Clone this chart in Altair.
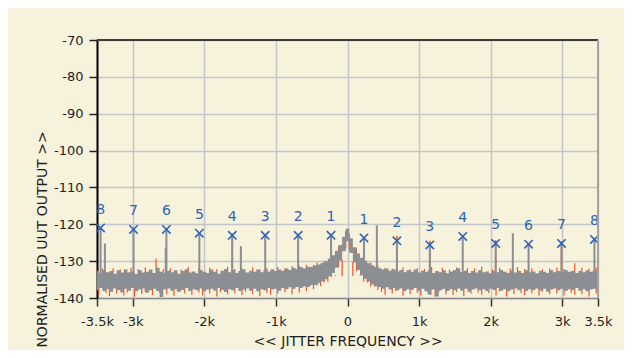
import altair as alt
import pandas as pd

FONT = "DejaVu Sans"
BG = "#f7f2dc"
GRID = "#c3c6c9"
GRAY = "#8b8f94"
RED = "#ee5327"
BLUE = "#2f64b6"

# ---- data -----------------------------------------------------------------
FREQ0, STEP = -3500, 50  # noise floor sampled every 50 Hz from -3.5 kHz

gray_hi = [
    -132.6, -133.2, -132.4, -133.0, -132.7, -133.4, -132.5, -133.1, -132.2, -133.0,
    -132.8, -133.5, -132.4, -133.1, -132.9, -132.3, -133.2, -131.8, -132.9, -133.3,
    -132.6, -133.0, -132.5, -133.4, -132.7, -132.2, -133.1, -132.8, -133.3, -132.4,
    -132.9, -133.2, -132.3, -132.9, -133.4, -132.6, -132.1, -133.0, -132.5, -133.2,
    -132.7, -132.2, -133.1, -132.6, -132.9, -132.3, -133.0, -132.5, -132.8, -132.2,
    -132.7, -132.3, -132.6, -132.0, -132.4, -131.8, -132.2, -131.6, -132.0, -131.5,
    -131.6, -131.2, -130.9, -130.5, -130.0, -129.3, -128.4, -127.2, -125.6, -123.4,
    -121.2, -123.8, -126.2, -127.9, -129.1, -129.9, -130.6, -131.1, -131.6, -131.9,
    -132.3, -132.0, -132.6, -132.2, -132.8, -132.4, -133.0, -132.5, -132.9, -132.3,
    -133.1, -132.6, -132.9, -132.4, -133.2, -132.7, -133.0, -132.5, -133.3, -132.8,
    -132.4, -131.9, -133.0, -132.6, -133.2, -132.7, -133.1, -132.5, -133.0, -132.8,
    -133.3, -132.6, -133.0, -132.4, -132.9, -133.2, -132.6, -133.1, -132.7, -133.2,
    -132.5, -133.0, -132.8, -133.3, -132.6, -132.9, -133.2, -132.5, -133.0, -132.7,
    -133.1, -132.4, -132.9, -132.6, -133.2, -132.7, -133.0, -132.5, -132.9, -132.6,
    -133.0,
]
gray_lo = [
    -137.9, -137.3, -138.1, -137.6, -138.3, -137.4, -137.8, -138.5, -137.5, -138.0,
    -137.3, -138.2, -137.7, -137.4, -138.6, -137.9, -137.5, -138.1, -139.7, -137.7,
    -137.4, -138.0, -137.6, -138.3, -137.8, -137.3, -138.1, -137.6, -137.9, -137.4,
    -138.2, -137.7, -137.5, -138.0, -137.3, -137.8, -138.4, -137.6, -137.9, -137.3,
    -138.1, -137.7, -137.4, -138.0, -137.5, -138.2, -137.6, -137.9, -137.3, -137.7,
    -137.5, -138.0, -137.3, -137.6, -137.1, -137.5, -137.0, -137.3, -136.8, -137.0,
    -136.5, -136.5, -136.0, -135.5, -134.9, -134.1, -133.2, -131.8, -129.8, -127.3,
    -124.6, -127.8, -130.4, -132.4, -133.8, -134.8, -135.6, -136.3, -136.8, -137.0,
    -137.5, -137.1, -137.7, -137.3, -137.9, -137.4, -138.1, -137.6, -137.8, -137.3,
    -138.0, -137.5, -138.2, -139.1, -137.7, -139.6, -137.9, -137.5, -138.1, -137.6,
    -137.9, -137.4, -138.0, -137.5, -138.3, -137.7, -137.4, -137.9, -137.6, -138.1,
    -137.5, -137.8, -137.3, -138.0, -137.6, -138.2, -137.7, -137.4, -137.9, -137.5,
    -138.1, -137.6, -137.8, -137.4, -138.0, -137.5, -138.3, -137.7, -137.4, -137.9,
    -137.5, -138.1, -137.6, -137.8, -137.3, -138.0, -137.6, -138.2, -137.7, -137.5,
    -137.9,
]
# second (red) trace, sampled half-way between the grey samples
red_lo = [
    -139.1, -137.0, -138.6, -139.5, -137.0, -138.8, -137.0, -139.3, -138.5, -137.0,
    -139.6, -137.0, -138.9, -138.3, -137.0, -139.2, -137.0, -138.6, -137.0, -139.0,
    -137.0, -139.4, -138.2, -137.0, -138.7, -137.0, -139.1, -137.0, -138.5, -139.3,
    -137.0, -138.8, -137.0, -139.6, -138.4, -137.0, -139.0, -137.0, -138.7, -137.0,
    -139.2, -138.3, -137.0, -138.9, -137.0, -139.5, -137.0, -138.6, -139.1, -137.0,
    -138.8, -137.0, -138.4, -137.0, -139.0, -137.0, -138.5, -137.0, -138.1, -136.7,
    -137.6, -136.6, -136.8, -135.7, -135.6, -134.3, -133.8, -131.6, -129.6, -126.5,
    -127.0, -130.2, -132.7, -133.8, -135.5, -135.8, -136.9, -136.9, -137.8, -138.3,
    -139.1, -137.0, -138.8, -138.2, -137.0, -139.4, -137.0, -138.9, -137.0, -138.6,
    -139.3, -137.0, -138.7, -137.0, -139.6, -138.3, -137.0, -139.0, -137.0, -139.2,
    -138.4, -137.0, -139.5, -137.0, -138.8, -137.0, -138.5, -139.1, -137.0, -138.7,
    -137.0, -139.3, -138.2, -137.0, -139.6, -137.0, -138.9, -137.0, -138.6, -139.2,
    -137.0, -138.7, -137.0, -139.4, -138.3, -137.0, -139.0, -137.0, -138.8, -137.0,
    -139.3, -137.0, -138.6, -139.1, -137.0, -138.9, -137.0, -139.6, -137.0, -138.7,
]
red_hi = [
    -134.0, -132.0, -134.0, -134.0, -131.9, -134.0, -132.3, -134.0, -134.0, -131.8,
    -134.0, -132.1, -134.0, -131.7, -134.0, -134.0, -129.3, -134.0, -132.2, -134.0,
    -131.9, -134.0, -134.0, -132.3, -134.0, -131.6, -134.0, -134.0, -132.0, -134.0,
    -134.0, -131.8, -134.0, -132.2, -134.0, -134.0, -131.5, -134.0, -132.1, -134.0,
    -132.0, -134.0, -134.0, -131.7, -134.0, -132.3, -134.0, -131.9, -134.0, -134.0,
    -131.6, -134.0, -132.0, -134.0, -131.4, -134.0, -131.2, -134.0, -131.0, -134.0,
    -131.0, -130.4, -134.0, -129.9, -134.0, -128.3, -134.0, -126.0, -134.0, -121.8,
    -122.5, -134.0, -126.5, -134.0, -129.0, -134.0, -130.4, -134.0, -131.2, -134.0,
    -131.8, -134.0, -132.0, -134.0, -134.0, -131.7, -134.0, -132.2, -134.0, -131.9,
    -134.0, -132.1, -134.0, -131.6, -134.0, -134.0, -131.8, -134.0, -132.3, -134.0,
    -131.7, -134.0, -134.0, -131.9, -134.0, -132.0, -134.0, -131.5, -134.0, -134.0,
    -132.2, -134.0, -131.8, -134.0, -134.0, -132.0, -134.0, -131.6, -134.0, -132.1,
    -134.0, -131.9, -134.0, -134.0, -132.2, -134.0, -132.0, -134.0, -131.7, -134.0,
    -132.1, -134.0, -134.0, -130.6, -134.0, -131.8, -134.0, -132.0, -134.0, -131.7,
]

# numbered sidebands (markers)
marker_f = [-3450, -2990, -2530, -2070, -1610, -1150, -690, -230,
            230, 690, 1150, 1610, 2070, 2530, 2990, 3450]
marker_db = [-121.0, -121.4, -121.4, -122.4, -123.0, -123.0, -123.0, -123.0,
             -123.7, -124.5, -125.6, -123.3, -125.2, -125.4, -125.2, -124.1]
marker_lbl = ["8", "7", "6", "5", "4", "3", "2", "1",
              "1", "2", "3", "4", "5", "6", "7", "8"]

# other spectral lines
extra_f = [-3390, -2540, -1490, 410, 2310]
extra_db = [-125.2, -126.3, -125.9, -120.3, -122.4]
red_spur_f = [-1610, 690, 1150, 2070, 2990]
red_spur_db = [-122.5, -123.2, -124.5, -124.3, -124.6]
SPUR_BASE = -134.0

x_ticks = [-3500, -3000, -2000, -1000, 0, 1000, 2000, 3000, 3500]
y_ticks = [-140, -130, -120, -110, -100, -90, -80, -70]

# ---- tables -----------------------------------------------------------------
freqs = [FREQ0 + STEP * i for i in range(len(gray_hi))]
noise = pd.DataFrame({"f": freqs, "lo": gray_lo, "hi": gray_hi})
red = pd.DataFrame({"f": [f + STEP / 2 for f in freqs[:-1]], "lo": red_lo, "hi": red_hi})
spurs = pd.DataFrame({"f": marker_f + extra_f,
                      "lo": [SPUR_BASE] * (len(marker_f) + len(extra_f)),
                      "hi": marker_db + extra_db})
red_spurs = pd.DataFrame({"f": red_spur_f, "lo": [SPUR_BASE] * len(red_spur_f),
                          "hi": red_spur_db})
markers = pd.DataFrame({"f": marker_f, "db": marker_db, "lbl": marker_lbl})

W, H = 501, 258

xscale = alt.Scale(domain=[-3500, 3500], nice=False, zero=False)
yscale = alt.Scale(domain=[-140, -70], nice=False, zero=False)

xaxis = alt.Axis(
    values=x_ticks,
    labelExpr="datum.value == 0 ? '0' : (datum.value / 1000) + 'k'",
    grid=True, gridColor=GRID, gridWidth=1.5,
    domainColor="#8a8a8a", domainWidth=1.5,
    tickColor="#333333", tickSize=8, tickWidth=1.5,
    labelFont=FONT, labelFontSize=13, labelColor="#1e1e1e", labelPadding=9,
    labelOverlap=False, labelFlush=False, labelBound=False,
    title="<< JITTER FREQUENCY >>", titleFont=FONT, titleFontSize=14,
    titleFontWeight="normal", titleColor="#1e1e1e", titlePadding=6,
)
yaxis = alt.Axis(
    values=y_ticks,
    labelExpr="'' + datum.value",
    grid=True, gridColor=GRID, gridWidth=1.5,
    domainColor="#000000", domainWidth=2,
    tickColor="#222222", tickSize=8, tickWidth=1.5,
    labelFont=FONT, labelFontSize=13, labelColor="#1e1e1e", labelPadding=6,
    labelOverlap=False, labelBound=False, labelFlush=False,
    title="NORMALISED UUT OUTPUT >>", titleFont=FONT, titleFontSize=14,
    titleFontWeight="normal", titleColor="#1e1e1e",
    titleAngle=270, titleAlign="center", titleBaseline="alphabetic",
    titleX=-51, titleY=199,
)


def X(field="f"):
    return alt.X(f"{field}:Q", scale=xscale, axis=xaxis)


def Y(field):
    return alt.Y(f"{field}:Q", scale=yscale, axis=yaxis)


red_noise = alt.Chart(red).mark_rule(color=RED, strokeWidth=1.2, clip=True).encode(
    x=X(), y=Y("lo"), y2="hi")
red_lines = alt.Chart(red_spurs).mark_rule(color=RED, strokeWidth=1.5).encode(
    x=X(), y=Y("lo"), y2="hi")
gray_band = alt.Chart(noise).mark_area(color=GRAY, interpolate="step", opacity=1,
                                       clip=True).encode(
    x=X(), y=Y("lo"), y2="hi")
gray_lines = alt.Chart(spurs).mark_rule(color=GRAY, strokeWidth=2).encode(
    x=X(), y=Y("lo"), y2="hi")
marks = alt.Chart(markers).mark_point(
    shape="M-1,-1L1,1M-1,1L1,-1", filled=False, size=70, strokeWidth=1.6,
    color=BLUE, opacity=1).encode(x=X(), y=Y("db"))
labels = alt.Chart(markers).mark_text(
    font=FONT, fontSize=14, color=BLUE, dy=-18, baseline="middle", align="center"
).encode(x=X(), y=Y("db"), text="lbl:N")
top_border = alt.Chart(markers).mark_rule(color="#3a3a3a", strokeWidth=2).encode(
    x=alt.value(0), x2=alt.value(W), y=alt.value(0))
right_border = alt.Chart(markers).mark_rule(color="#a3a3a3", strokeWidth=2).encode(
    x=alt.value(W), y=alt.value(0), y2=alt.value(H))

chart = alt.layer(
    red_noise, red_lines, gray_band, gray_lines, marks, labels, top_border, right_border
).properties(
    width=W, height=H,
    background=BG,
    padding={"left": 89, "top": 32, "right": 26, "bottom": 52},
    autosize=alt.AutoSizeParams(type="none"),
).configure_view(stroke=None)

chart.save("out.html", embed_options={"renderer": "svg", "actions": False})
